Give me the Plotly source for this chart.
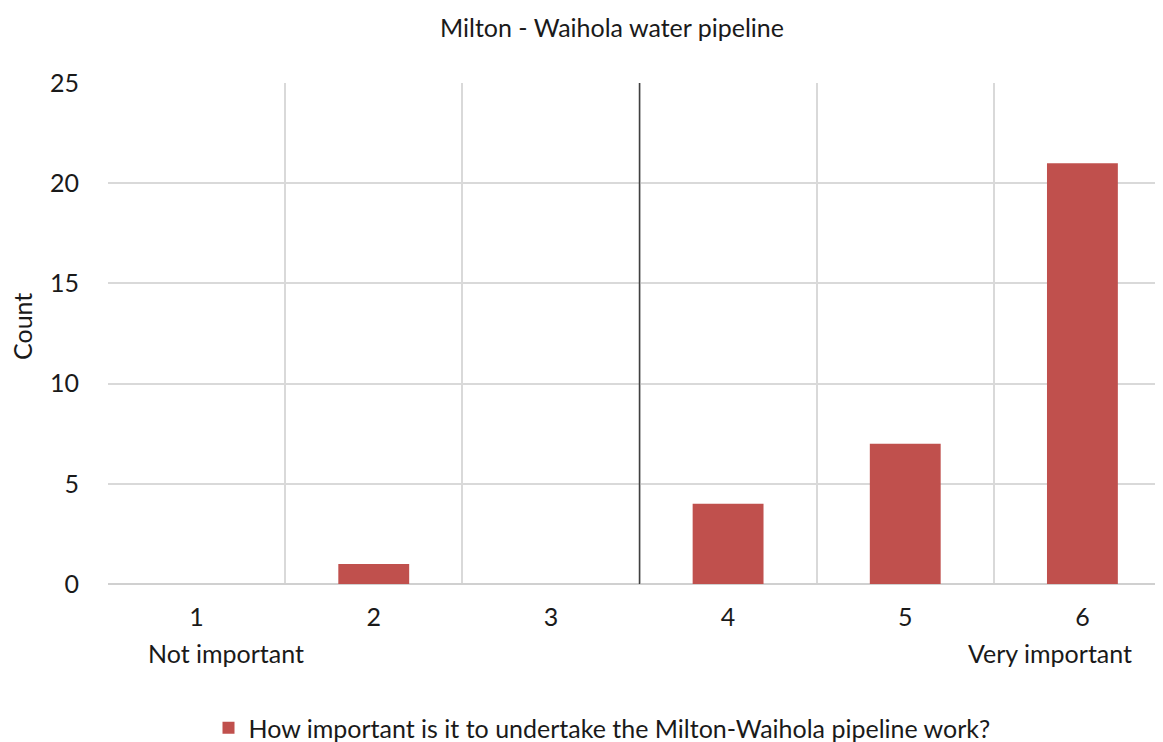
import plotly.graph_objects as go

categories = [1, 2, 3, 4, 5, 6]
counts = [0, 1, 0, 4, 7, 21]
tick_labels = ["1", "2", "3", "4", "5", "6"]
series_name = "How important is it to undertake the Milton-Waihola pipeline work?"
low_label = "Not important"
high_label = "Very important"
divider_x = 3.5
boundaries = [0.5, 1.5, 2.5, 3.5, 4.5, 5.5, 6.5]

FONT = "Lato"
FS = 25
TXT = "#1a1a1a"
W, H = 1163, 742
ML, MT, MB = 100, 75, 166
PW = W - ML
PH = H - MT - MB

fig = go.Figure()
fig.add_trace(go.Bar(
    x=categories, y=counts, name=series_name, width=0.4,
    marker=dict(color="#C0504D", line=dict(width=0)),
    showlegend=True,
))

fig.add_vline(x=divider_x, line=dict(color="#404040", width=1.5), y0=0, y1=1)

fig.add_annotation(x=1.166, y=-69 / PH, xref="x", yref="paper", text=low_label,
                   showarrow=False, font=dict(family=FONT, size=FS, color=TXT),
                   yanchor="middle")
fig.add_annotation(x=5.817, y=-69 / PH, xref="x", yref="paper", text=high_label,
                   showarrow=False, font=dict(family=FONT, size=FS, color=TXT),
                   yanchor="middle")
fig.add_annotation(x=(14 - ML) / PW, y=0.513, xref="paper", yref="paper", text="Count",
                   showarrow=False, textangle=-90, font=dict(family=FONT, size=FS, color=TXT),
                   xanchor="center", yanchor="middle")

fig.update_layout(
    width=W, height=H,
    margin=dict(l=ML, r=0, t=MT, b=MB, autoexpand=False),
    paper_bgcolor="white", plot_bgcolor="white",
    font=dict(family=FONT, color=TXT),
    title=dict(text="Milton - Waihola water pipeline", x=604 / W, xanchor="center",
               y=1 - 20 / H, yanchor="middle", font=dict(family=FONT, size=FS, color=TXT)),
    bargap=0.6,
    legend=dict(orientation="h", x=(594 - ML) / PW, xanchor="center", y=-144 / PH,
                yanchor="middle", font=dict(family=FONT, size=FS, color=TXT)),
)
fig.update_xaxes(
    range=[0.5, 6.5], tickmode="array", tickvals=categories, ticktext=tick_labels,
    showgrid=False, zeroline=False, showline=False, ticks="", automargin=False,
    tickfont=dict(family=FONT, size=FS, color=TXT), ticklabelstandoff=16,
    minor=dict(tickmode="array", tickvals=boundaries, showgrid=True,
               gridcolor="#d9d9d9", gridwidth=1.5, ticks=""),
)
fig.update_yaxes(
    range=[0, 25], tickmode="array", tickvals=[0, 5, 10, 15, 20, 25],
    showgrid=True, gridcolor="#d9d9d9", gridwidth=1.5, zeroline=True,
    zerolinecolor="#d0d0d0", zerolinewidth=1.5, showline=False, ticks="", automargin=False,
    tickfont=dict(family=FONT, size=FS, color=TXT), ticklabelstandoff=28,
)

fig.write_html("out.html")
